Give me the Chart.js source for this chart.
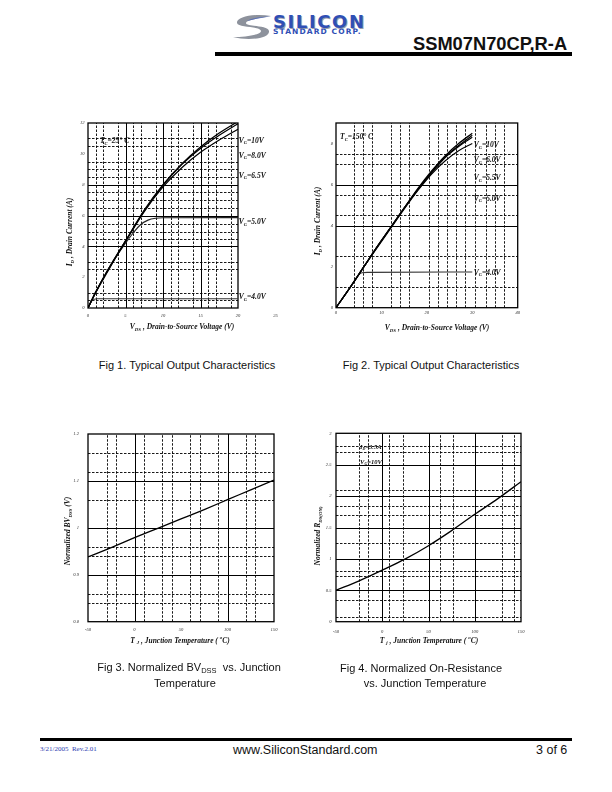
<!DOCTYPE html>
<html>
<head>
<meta charset="utf-8">
<script src="https://cdn.jsdelivr.net/npm/chart.js@4.4.1/dist/chart.umd.min.js"></script>
<style>
  body { margin: 0; background: #fff; }
  #page { position: relative; width: 612px; height: 792px; overflow: hidden; font-family: "Liberation Sans", Arial, sans-serif; color: #111; }
  canvas.fig { position: absolute; }
  .ax { position: absolute; font: italic bold 7.5px "Liberation Serif", serif; white-space: nowrap; transform: translate(-50%, -50%); }
  .ax.rot { transform: translate(-50%, -50%) rotate(-90deg); }
  .ax sub { font-size: 4.8px; vertical-align: -1.5px; }
  .cap { position: absolute; font-size: 11px; white-space: nowrap; transform: translate(-50%, -50%); }
  .cap sub { font-size: 7.5px; vertical-align: -2px; }
  .bar { position: absolute; background: #000; }
</style>
</head>
<body>
<div id="page">
  <!-- header -->
  <svg style="position:absolute;left:232px;top:14px" width="40" height="26" viewBox="0 0 40 26">
    <path d="M39 2 C22 -1 4 3 5 9 C6 14 29 12 29 17 C29 21 13 23 1 23 C15 27 38 25 37 17 C36 11 14 13 14 9 C14 6 28 4 39 2 Z" fill="#8d929c"/>
    <path d="M39 2 C30 3 18 4 15 7 C22 5 31 4 39 2 Z" fill="#5a6fb5"/>
  </svg>
  <div style="position:absolute;left:273px;top:11px;font:bold 18px 'DejaVu Sans',sans-serif;letter-spacing:1.6px;color:#2f4fb5;text-shadow:1px 1px 0 #9aa0aa;">SILICON</div>
  <div style="position:absolute;left:273px;top:27px;font:bold 7.5px 'DejaVu Sans',sans-serif;letter-spacing:1.1px;color:#2f4fb5;">STANDARD CORP.</div>
  <div style="position:absolute;left:413px;top:32.5px;font:bold 18.3px 'Liberation Sans',Arial,sans-serif;">SSM07N70CP,R-A</div>
  <div class="bar" style="left:215px;top:52px;width:357px;height:4px;"></div>

  <canvas class="fig" id="fig1" width="230" height="230" style="left:60px;top:110px"></canvas>
  <canvas class="fig" id="fig2" width="230" height="230" style="left:310px;top:110px"></canvas>
  <canvas class="fig" id="fig3" width="230" height="230" style="left:60px;top:420px"></canvas>
  <canvas class="fig" id="fig4" width="230" height="230" style="left:310px;top:420px"></canvas>

  <!-- axis titles -->
  <div class="ax" style="left:182px;top:327px">V<sub>DS</sub> , Drain-to-Source Voltage (V)</div>
  <div class="ax rot" style="left:70px;top:232px">I<sub>D</sub> , Drain Current (A)</div>
  <div class="ax" style="left:437px;top:328px">V<sub>DS</sub> , Drain-to-Source Voltage (V)</div>
  <div class="ax rot" style="left:318px;top:221px">I<sub>D</sub> , Drain Current (A)</div>
  <div class="ax" style="left:180px;top:640px">T <sub>J</sub> , Junction Temperature ( <sup style="font-size:5px">o</sup>C)</div>
  <div class="ax rot" style="left:68px;top:531px">Normalized BV<sub>DSS</sub> (V)</div>
  <div class="ax" style="left:429px;top:640px">T <sub>j</sub> , Junction Temperature ( <sup style="font-size:5px">o</sup>C)</div>
  <div class="ax rot" style="left:318px;top:536px">Normalized R<sub>DS(ON)</sub></div>

  <!-- captions -->
  <div class="cap" style="left:187px;top:365px">Fig 1. Typical Output Characteristics</div>
  <div class="cap" style="left:431px;top:365px">Fig 2. Typical Output Characteristics</div>
  <div class="cap" style="left:189px;top:668px">Fig 3. Normalized BV<sub>DSS</sub>&nbsp; vs. Junction</div>
  <div class="cap" style="left:185px;top:683px">Temperature</div>
  <div class="cap" style="left:421px;top:668px">Fig 4. Normalized On-Resistance</div>
  <div class="cap" style="left:425px;top:683px">vs. Junction Temperature</div>

  <!-- footer -->
  <div class="bar" style="left:40px;top:738px;width:532px;height:3px;"></div>
  <div style="position:absolute;left:40px;top:745px;font:7px 'Liberation Serif',serif;color:#2b3bb0;">3/21/2005&nbsp; Rev.2.01</div>
  <div style="position:absolute;left:233px;top:743px;font-size:12.5px;">www.SiliconStandard.com</div>
  <div style="position:absolute;left:536px;top:743px;font-size:12.5px;">3 of 6</div>
</div>

<script>
// ---- Fig 1: output characteristics, Tc = 25 C ----
const fig1XTicks = [0, 5, 10, 15, 20, 25];
const fig1YTicks = [0, 2, 4, 6, 8, 10, 12];
const fig1VdsHigh = [0, 1, 2.5, 5, 7.5, 10, 12.5, 15, 17.5, 20];
const fig1IdVg10 = [0, 1.0, 2.35, 4.35, 6.35, 8.0, 9.35, 10.45, 11.35, 12.1];
const fig1IdVg8 = [0, 1.0, 2.35, 4.35, 6.3, 7.95, 9.3, 10.35, 11.2, 11.95];
const fig1IdVg65 = [0, 1.0, 2.3, 4.3, 6.25, 7.85, 9.1, 10.1, 10.9, 11.6];
const fig1VdsVg5 = [0, 1, 2.5, 4, 5, 6, 7, 8, 9, 10, 20];
const fig1IdVg5 = [0, 0.95, 2.25, 3.5, 4.2, 4.85, 5.4, 5.7, 5.82, 5.85, 5.86];
const fig1VdsVg4 = [0, 0.4, 0.8, 1.2, 20];
const fig1IdVg4 = [0, 0.4, 0.56, 0.6, 0.6];

// ---- Fig 2: output characteristics, Tc = 150 C ----
const fig2XTicks = [0, 10, 20, 30, 40];
const fig2YTicks = [0, 2, 4, 6, 8];
const fig2VdsHigh = [0, 3, 6, 9, 12, 15, 18, 21, 24, 27, 30];
const fig2IdVg10 = [0, 0.95, 1.95, 2.95, 3.9, 4.85, 5.8, 6.65, 7.4, 8.0, 8.5];
const fig2IdVg6 = [0, 0.95, 1.95, 2.95, 3.9, 4.85, 5.75, 6.6, 7.35, 7.9, 8.4];
const fig2IdVg55 = [0, 0.95, 1.95, 2.95, 3.9, 4.85, 5.75, 6.55, 7.3, 7.85, 8.3];
const fig2IdVg5 = [0, 0.95, 1.95, 2.9, 3.85, 4.8, 5.7, 6.5, 7.15, 7.65, 8.0];
const fig2VdsVg4 = [0, 3, 4.3, 5, 5.7, 7, 30];
const fig2IdVg4 = [0, 0.95, 1.4, 1.6, 1.7, 1.72, 1.74];

// ---- Fig 3 / Fig 4: vs junction temperature ----
const tempTicks = [-50, 0, 50, 100, 150];
const fig3YTicks = [0.8, 0.9, 1, 1.1, 1.2];
const fig4YTicks = [0, 0.5, 1, 1.5, 2, 2.5, 3];
const junctionTemp = [-50, -25, 0, 25, 50, 75, 100, 125, 150];
const normBVdss = [0.938, 0.958, 0.979, 0.999, 1.019, 1.039, 1.06, 1.081, 1.102];
const normRdsOn = [0.5, 0.65, 0.82, 1.0, 1.21, 1.45, 1.71, 1.96, 2.23];

// grid lines of the datasheet sheets (solid major, dashed minor)
const fig1SolidX = [5, 10, 15], fig1DashX = [1, 2, 4, 6, 7, 9, 11, 12, 14, 16, 17, 19];
const fig1SolidY = [4, 6, 8], fig1DashY = [0.5, 1, 2.5, 3, 4.45, 4.95, 5.45, 6.5, 7, 7.5, 8.5, 9, 9.5, 10.5, 11];
const fig2SolidX = [], fig2DashX = [4, 6, 8, 12, 14, 16, 20.5, 22.5, 24.5, 26.5, 28.5, 30.5, 33, 35, 37];
const fig2SolidY = [4, 6], fig2DashY = [1, 2.5, 4.5, 5.5, 7, 7.5];
const fig3SolidX = [0, 100], fig3DashX = [-30, -20, 10, 30, 40, 60, 70, 90, 120, 130];
const fig3SolidY = [0.9, 1, 1.1], fig3DashY = [0.84, 0.86, 0.94, 0.96, 1.06, 1.12, 1.16];
const fig4SolidX = [0, 50, 100], fig4DashX = [-25, -15, 7, 22, 62, 76, 129, 142];
const fig4SolidY = [0.5, 1, 1.5, 2, 2.5], fig4DashY = [0.08, 0.35, 0.72, 0.8, 1.25, 1.7, 1.85, 2.1, 2.7, 2.8];

// ========== PLUGINS ==========
const sheetGrid = {
  id: "sheetGrid",
  beforeDatasetsDraw(chart, args, o) {
    const { ctx } = chart;
    const xs = chart.scales.x, ys = chart.scales.y;
    const x0 = xs.getPixelForValue(xs.min), x1 = xs.getPixelForValue(o.frameXMax ?? xs.max);
    const y0 = ys.getPixelForValue(ys.min), y1 = ys.getPixelForValue(ys.max);
    ctx.save();
    ctx.strokeStyle = "#000";
    const vline = (v, w) => { const p = Math.round(xs.getPixelForValue(v)) + 0.5; ctx.lineWidth = w; ctx.beginPath(); ctx.moveTo(p, y0); ctx.lineTo(p, y1); ctx.stroke(); };
    const hline = (v, w) => { const p = Math.round(ys.getPixelForValue(v)) + 0.5; ctx.lineWidth = w; ctx.beginPath(); ctx.moveTo(x0, p); ctx.lineTo(x1, p); ctx.stroke(); };
    ctx.setLineDash([2.5, 1.5]);
    o.dashX.forEach(v => vline(v, 0.9));
    o.dashY.forEach(v => hline(v, 0.9));
    ctx.setLineDash([]);
    o.solidX.forEach(v => vline(v, 1));
    o.solidY.forEach(v => hline(v, 1));
    ctx.lineWidth = 1.3;
    ctx.strokeRect(x0, y1, x1 - x0, y0 - y1);
    ctx.restore();
  }
};

const notes = {
  id: "notes",
  afterDatasetsDraw(chart, args, o) {
    const { ctx } = chart;
    const xs = chart.scales.x, ys = chart.scales.y;
    ctx.save();
    ctx.fillStyle = "#111";
    ctx.textBaseline = "alphabetic";
    o.items.forEach(n => {
      const size = n.size || 7.5;
      let px = xs.getPixelForValue(n.x);
      const py = ys.getPixelForValue(n.y) + size * 0.35;
      n.parts.forEach(([t, sub]) => {
        const s = sub ? size * 0.6 : size;
        ctx.font = `italic bold ${s}px "Liberation Serif"`;
        ctx.fillText(t, px, sub ? py + size * 0.22 : py);
        px += ctx.measureText(t).width;
      });
    });
    ctx.restore();
  }
};

// ========== CHART FACTORY ==========
function pts(xArr, yArr) {
  return xArr.map((x, i) => ({ x, y: yArr[i] }));
}

function makeFig(id, cfg) {
  const tickFont = { family: "Liberation Serif", size: 4.6, style: "italic" };
  const plain = (v) => String(v); // 1 not 1.0, 2.5 not 2.50
  return new Chart(document.getElementById(id), {
    type: "scatter",
    data: {
      datasets: cfg.series.map(s => ({
        data: pts(s.x, s.y),
        showLine: true,
        borderColor: s.color || "#000",
        borderWidth: s.w || 1.2,
        pointRadius: 0,
        cubicInterpolationMode: "monotone",
      })),
    },
    options: {
      responsive: false,
      animation: false,
      devicePixelRatio: 1,
      layout: { padding: cfg.pad },
      plugins: {
        legend: { display: false },
        tooltip: { enabled: false },
        sheetGrid: cfg.grid,
        notes: { items: cfg.notes || [] },
      },
      scales: {
        x: {
          type: "linear", min: cfg.xTicks[0], max: cfg.xTicks[cfg.xTicks.length - 1],
          afterBuildTicks: sc => { sc.ticks = cfg.xTicks.map(v => ({ value: v })); },
          afterFit: sc => { sc.height = 12; },
          ticks: { font: tickFont, color: "#333", padding: cfg.xPad, maxRotation: 0, autoSkip: false, callback: plain },
          grid: { display: false, drawTicks: false },
          border: { display: false },
        },
        y: {
          type: "linear", min: cfg.yTicks[0], max: cfg.yMax ?? cfg.yTicks[cfg.yTicks.length - 1],
          afterBuildTicks: sc => { sc.ticks = cfg.yTicks.map(v => ({ value: v })); },
          afterFit: sc => { sc.width = cfg.yW; },
          ticks: { font: tickFont, color: "#333", padding: cfg.yPad, autoSkip: false, callback: plain },
          grid: { display: false, drawTicks: false },
          border: { display: false },
        },
      },
    },
    plugins: [sheetGrid, notes],
  });
}

const vg = (v) => [["V", 0], ["G", 1], ["=" + v, 0]];

makeFig("fig1", {
  pad: { left: 8, right: 14.5, top: 13, bottom: 20 }, yW: 20, xPad: 5, yPad: 3.5,
  xTicks: fig1XTicks, yTicks: fig1YTicks,
  grid: { frameXMax: 20, solidX: fig1SolidX, dashX: fig1DashX, solidY: fig1SolidY, dashY: fig1DashY },
  series: [
    { x: fig1VdsHigh, y: fig1IdVg10, w: 1.3 },
    { x: fig1VdsHigh, y: fig1IdVg8, w: 1.2 },
    { x: fig1VdsHigh, y: fig1IdVg65, w: 1.2 },
    { x: fig1VdsVg5, y: fig1IdVg5, w: 1.1, color: "#222" },
    { x: fig1VdsVg4, y: fig1IdVg4, w: 1.1, color: "#333" },
  ],
  notes: [
    { x: 1.6, y: 10.85, parts: [["T", 0], ["C", 1], ["=25° C", 0]] },
    { x: 20.1, y: 10.9, parts: vg("10V") },
    { x: 20.1, y: 9.92, parts: vg("8.0V") },
    { x: 20.1, y: 8.63, parts: vg("6.5V") },
    { x: 20.1, y: 5.6, parts: vg("5.0V") },
    { x: 20.1, y: 0.73, parts: vg("4.0V") },
  ],
});

makeFig("fig2", {
  pad: { left: 8, right: 22.3, top: 13, bottom: 20.3 }, yW: 18, xPad: 2, yPad: 3,
  xTicks: fig2XTicks, yTicks: fig2YTicks, yMax: 9,
  grid: { solidX: fig2SolidX, dashX: fig2DashX, solidY: fig2SolidY, dashY: fig2DashY },
  series: [
    { x: fig2VdsHigh, y: fig2IdVg10, w: 1.3 },
    { x: fig2VdsHigh, y: fig2IdVg6, w: 1.2 },
    { x: fig2VdsHigh, y: fig2IdVg55, w: 1.2 },
    { x: fig2VdsHigh, y: fig2IdVg5, w: 1.1 },
    { x: fig2VdsVg4, y: fig2IdVg4, w: 1.1, color: "#333" },
  ],
  notes: [
    { x: 0.9, y: 8.35, parts: [["T", 0], ["C", 1], ["=150° C", 0]] },
    { x: 30.3, y: 7.94, parts: vg("10V") },
    { x: 30.3, y: 7.21, parts: vg("6.0V") },
    { x: 30.3, y: 6.35, parts: vg("5.5V") },
    { x: 30.3, y: 5.35, parts: vg("5.0V") },
    { x: 30.3, y: 1.74, parts: vg("4.0V") },
  ],
});

makeFig("fig3", {
  pad: { left: 8, right: 16, top: 14, bottom: 16.3 }, yW: 20, xPad: 5, yPad: 9,
  xTicks: tempTicks, yTicks: fig3YTicks,
  grid: { solidX: fig3SolidX, dashX: fig3DashX, solidY: fig3SolidY, dashY: fig3DashY },
  series: [{ x: junctionTemp, y: normBVdss, w: 1.3 }],
});

makeFig("fig4", {
  pad: { left: 8, right: 19, top: 13.3, bottom: 16.3 }, yW: 18, xPad: 7.5, yPad: 4.5,
  xTicks: tempTicks, yTicks: fig4YTicks,
  grid: { solidX: fig4SolidX, dashX: fig4DashX, solidY: fig4SolidY, dashY: fig4DashY },
  series: [{ x: junctionTemp, y: normRdsOn, w: 1.3 }],
  notes: [
    { x: -24, y: 2.79, size: 6.5, parts: [["I", 0], ["D", 1], ["=3.5A", 0]] },
    { x: -24, y: 2.55, size: 6.5, parts: vg("10V") },
  ],
});
</script>
</body>
</html>
